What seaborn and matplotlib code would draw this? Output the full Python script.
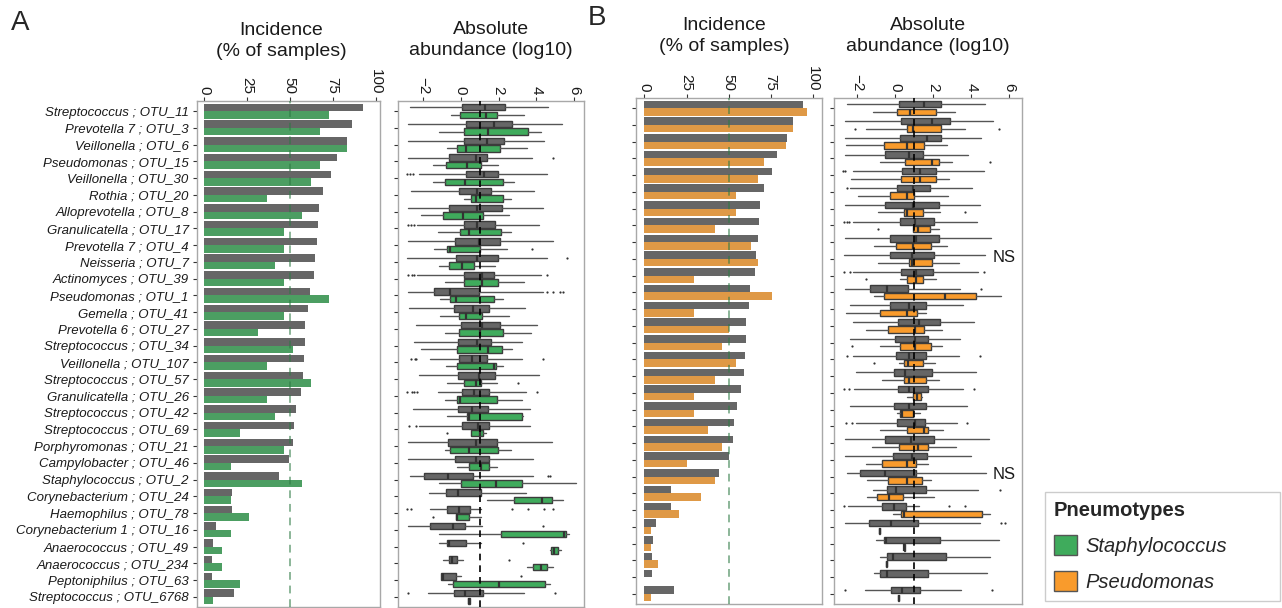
import matplotlib
matplotlib.use("Agg")
import matplotlib.pyplot as plt
import numpy as np
import pandas as pd
import seaborn as sns
from matplotlib.patches import Patch

# ---- data ---------------------------------------------------------------
otu_labels = [
    "Streptococcus ; OTU_11", "Prevotella 7 ; OTU_3", "Veillonella ; OTU_6",
    "Pseudomonas ; OTU_15", "Veillonella ; OTU_30", "Rothia ; OTU_20",
    "Alloprevotella ; OTU_8", "Granulicatella ; OTU_17", "Prevotella 7 ; OTU_4",
    "Neisseria ; OTU_7", "Actinomyces ; OTU_39", "Pseudomonas ; OTU_1",
    "Gemella ; OTU_41", "Prevotella 6 ; OTU_27", "Streptococcus ; OTU_34",
    "Veillonella ; OTU_107", "Streptococcus ; OTU_57", "Granulicatella ; OTU_26",
    "Streptococcus ; OTU_42", "Streptococcus ; OTU_69", "Porphyromonas ; OTU_21",
    "Campylobacter ; OTU_46", "Staphylococcus ; OTU_2", "Corynebacterium ; OTU_24",
    "Haemophilus ; OTU_78", "Corynebacterium 1 ; OTU_16", "Anaerococcus ; OTU_49",
    "Anaerococcus ; OTU_234", "Peptoniphilus ; OTU_63", "Streptococcus ; OTU_6768",
]

# incidence (% of samples), panel A: other pneumotypes vs Staphylococcus
inc_a_other = [92.5, 86.4, 83.1, 77.3, 74.0, 69.5, 67.0, 66.6, 65.7, 64.9,
               64.1, 61.6, 60.6, 59.0, 59.0, 58.5, 57.9, 56.5, 53.8, 52.3,
               51.7, 49.4, 43.7, 16.1, 16.1, 6.8, 5.1, 4.7, 4.7, 17.5]
inc_a_staph = [73.0, 67.6, 83.1, 67.6, 62.4, 36.5, 57.3, 46.8, 46.8, 41.6,
               46.8, 73.0, 46.8, 31.3, 52.0, 36.5, 62.4, 36.5, 41.6, 21.0,
               46.8, 15.5, 57.3, 15.5, 26.0, 15.5, 10.3, 10.3, 21.0, 5.1]

# incidence, panel B: other pneumotypes vs Pseudomonas
inc_b_other = [94.3, 88.4, 84.8, 78.9, 75.8, 71.0, 68.4, 68.0, 67.2, 66.3,
               65.5, 62.7, 61.9, 60.3, 60.3, 60.0, 59.3, 57.5, 54.9, 53.4,
               52.8, 50.4, 44.4, 16.0, 16.0, 6.6, 4.8, 4.4, 4.4, 17.5]
inc_b_pseudo = [96.7, 88.4, 84.0, 71.2, 67.2, 54.5, 54.5, 42.0, 63.1, 67.2,
                29.6, 75.8, 29.6, 50.4, 46.0, 54.5, 42.0, 29.6, 29.6, 38.0,
                46.0, 25.4, 42.0, 33.8, 20.8, 4.0, 4.0, 8.3, 0.0, 4.0]

# absolute abundance (log10): (lower whisker, q1, median, q3, upper whisker)
box_a_other = [
    (-2.68, 0.09, 1.29, 2.35, 4.60), (-2.77, 0.28, 1.75, 2.72, 5.33),
    (-2.77, 0.19, 1.38, 2.31, 4.41), (-2.77, -0.60, 0.79, 1.41, 3.76),
    (-2.20, 0.28, 1.22, 1.98, 4.55), (-2.65, -0.09, 0.85, 1.62, 3.90),
    (-2.77, -0.60, 0.85, 2.17, 4.37), (-2.33, 0.19, 0.88, 1.83, 4.16),
    (-2.77, -0.28, 0.97, 2.05, 4.90), (-2.82, -0.25, 0.85, 1.96, 4.55),
    (-2.33, 0.18, 1.11, 1.78, 4.25), (-2.77, -1.39, -0.56, 0.95, 4.37),
    (-2.72, -0.37, 0.67, 1.50, 3.42), (-2.36, 0.00, 1.15, 2.05, 4.02),
    (-2.50, -0.12, 0.88, 1.59, 3.26), (-1.62, -0.07, 0.62, 1.38, 3.26),
    (-2.19, -0.12, 0.99, 1.82, 4.14), (-1.23, 0.09, 0.72, 1.52, 3.44),
    (-2.54, -0.16, 0.58, 1.46, 3.67), (-2.19, 0.05, 0.92, 1.52, 3.67),
    (-2.77, -0.67, 0.81, 1.90, 4.81), (-2.77, -0.28, 0.78, 1.52, 3.84),
    (-2.68, -1.96, -0.67, 0.63, 3.84), (-1.66, -0.79, -0.16, 1.06, 3.44),
    (-1.62, -0.74, -0.09, 0.49, 1.06), (-2.77, -1.62, -0.42, 0.23, 1.11),
    (-1.13, -0.74, -0.63, 0.28, 1.06), (-0.95, -0.62, -0.44, -0.21, 0.14),
    (-1.06, -1.02, -0.92, -0.25, 0.02), (-1.75, -0.35, 0.25, 1.20, 3.37),
]
out_a_other = [
    [], [], [], [4.87], [-2.85, -2.70, -2.55], [], [], [-2.77, -2.65, -2.50],
    [], [5.61], [-2.80, -2.56, -2.45, 4.55], [4.55, 4.87, 5.26, 5.43], [], [],
    [], [-2.65, -2.40, -2.36, 4.37], [], [-2.82, -2.60, -2.50, -2.33, 4.02],
    [], [-2.72, -2.36], [], [], [4.64, 4.72], [],
    [-2.82, -2.65, 2.73, 3.58, 4.43, 4.90], [4.37], [3.28], [2.56], [3.17],
    [-2.77, 4.96],
]
box_a_staph = [
    (-0.53, -0.02, 1.31, 1.94, 3.35), (-1.13, 0.19, 1.43, 3.58, 4.25),
    (-0.71, -0.21, 0.30, 2.08, 3.53), (-1.45, -0.78, 0.34, 1.08, 1.96),
    (-1.45, -0.83, 0.21, 2.22, 2.84), (0.18, 0.56, 0.78, 2.22, 2.65),
    (-2.12, -0.92, 0.14, 1.20, 2.57), (-1.23, -0.02, 0.41, 2.12, 2.65),
    (-1.41, -0.71, -0.56, 1.01, 2.43), (-1.13, -0.63, 0.07, 0.72, 1.82),
    (-0.83, 0.16, 1.11, 1.98, 3.35), (-1.09, -0.56, -0.25, 1.78, 2.22),
    (-1.09, -0.11, 0.28, 1.15, 2.57), (-0.83, -0.07, 1.02, 2.26, 3.72),
    (-2.12, -0.18, 1.46, 2.19, 2.70), (-0.79, -0.18, 1.76, 1.87, 2.22),
    (-0.71, 0.16, 0.81, 1.08, 1.90), (-0.83, -0.21, -0.02, 1.94, 3.26),
    (-0.71, 0.32, 0.46, 3.26, 3.30), (0.53, 0.56, 1.02, 1.20, 1.34),
    (-0.83, -0.56, 0.42, 1.98, 2.65), (-0.21, 0.46, 1.09, 1.52, 1.90),
    (-1.13, 0.02, 1.87, 3.23, 6.10), (1.38, 2.80, 4.29, 4.85, 5.40),
    (-0.25, -0.25, -0.21, 0.41, 1.06), (-1.13, 2.15, 5.47, 5.57, 5.70),
    (4.73, 4.76, 4.94, 5.17, 5.31), (3.53, 3.84, 4.22, 4.55, 4.87),
    (-0.65, -0.39, 2.03, 4.46, 4.73), (0.39, 0.39, 0.44, 0.49, 0.49),
]
out_a_staph = [
    [], [], [], [], [], [], [], [], [3.76], [], [], [], [], [], [], [],
    [3.02], [], [], [-0.74], [], [], [], [], [-1.45], [], [], [], [], [],
]
box_b_other = [
    (-2.54, 0.18, 1.49, 2.42, 4.74), (-2.63, 0.32, 1.93, 2.86, 5.12),
    (-2.63, 0.23, 1.67, 2.40, 4.51), (-2.63, -0.56, 0.75, 1.46, 3.82),
    (-2.23, 0.35, 1.28, 2.14, 4.65), (-2.40, 0.11, 0.96, 1.82, 4.04),
    (-2.63, -0.56, 0.93, 2.30, 4.47), (-2.23, 0.23, 1.02, 2.02, 4.30),
    (-2.63, -0.30, 1.11, 2.28, 5.04), (-2.68, -0.30, 0.88, 2.05, 4.70),
    (-2.23, 0.28, 1.11, 1.98, 4.35), (-2.63, -1.32, -0.44, 0.67, 3.39),
    (-2.37, -0.25, 0.75, 1.63, 3.56), (-2.23, 0.14, 1.23, 2.37, 4.12),
    (-2.37, 0.00, 1.02, 1.75, 3.39), (-2.23, 0.02, 0.70, 1.63, 3.37),
    (-2.05, -0.04, 0.53, 1.93, 4.25), (-2.19, 0.14, 0.74, 1.72, 3.56),
    (-2.40, -0.04, 0.74, 1.63, 3.77), (-2.05, 0.11, 1.02, 1.58, 3.25),
    (-2.63, -0.56, 0.81, 2.05, 4.95), (-2.63, -0.14, 0.89, 1.67, 3.98),
    (-2.54, -1.84, -0.53, 1.11, 4.79), (-1.18, -0.44, 0.04, 1.63, 4.35),
    (-2.49, -0.68, -0.05, 0.58, 1.23), (-2.63, -1.37, -0.21, 1.19, 4.47),
    (-1.02, -0.61, -0.51, 2.33, 5.44), (-0.82, -0.44, -0.09, 2.68, 5.00),
    (-1.09, -0.79, -0.42, 1.72, 4.82), (-1.61, -0.21, 0.35, 1.32, 3.47),
]
out_b_other = [
    [], [], [], [], [-2.75, -2.63], [-2.54], [], [-2.68, -2.54, -2.42], [],
    [], [-2.67, -2.40, 4.68], [4.51], [], [], [], [-2.54, 4.47], [],
    [-2.72, -2.42, 4.12], [], [-2.60, -2.25, 3.77], [], [], [], [5.53],
    [-2.72, 2.84, 3.68], [5.56, 5.79], [], [], [], [-2.63, 5.09],
]
box_b_pseudo = [
    (-1.18, 0.09, 0.79, 2.12, 3.16), (-1.54, 0.61, 0.96, 2.39, 3.68),
    (-2.58, -0.61, 0.61, 1.53, 2.72), (-0.79, 0.49, 1.93, 2.28, 2.98),
    (-2.32, 0.28, 1.32, 2.14, 2.81), (-1.98, -0.30, 0.61, 1.00, 2.77),
    (-0.91, 0.44, 0.61, 1.46, 2.37), (0.96, 0.96, 1.18, 1.81, 2.28),
    (-1.14, 0.02, 0.96, 1.88, 2.72), (-0.91, 0.74, 0.88, 1.93, 3.35),
    (0.26, 0.60, 1.11, 1.46, 2.14), (-1.14, -0.61, 2.63, 4.23, 5.58),
    (-2.60, -0.82, 0.61, 1.14, 1.63), (-1.54, -0.39, 1.05, 1.54, 2.47),
    (-0.82, 0.26, 1.05, 1.88, 2.47), (0.18, 0.44, 0.67, 1.46, 2.11),
    (-0.70, 0.47, 0.70, 1.63, 2.28), (0.61, 0.96, 1.14, 1.37, 1.40),
    (0.09, 0.23, 0.35, 0.93, 1.32), (-0.82, 0.61, 1.53, 1.75, 2.51),
    (-1.23, 0.18, 1.19, 1.75, 3.21), (-1.54, -0.72, 0.61, 1.11, 1.72),
    (-1.49, -0.40, 0.61, 1.40, 1.88), (-1.49, -0.96, -0.32, 0.40, 2.05),
    (-0.09, 0.30, 0.47, 4.56, 5.00), (-0.85, -0.85, -0.82, -0.79, -0.79),
    (0.44, 0.44, 0.47, 0.50, 0.50), (-0.47, -0.47, -0.44, -0.41, -0.41),
    None, (0.16, 0.16, 0.19, 0.22, 0.22),
]
out_b_pseudo = [
    [], [-2.14, 5.44], [], [5.00], [], [], [3.65], [-0.88], [], [], [-1.54],
    [], [], [], [-2.28], [-1.11], [], [], [], [], [], [], [], [], [], [], [],
    [], [], [],
]

ns_rows = [9, 22]   # rows of panel B flagged "NS"
inc_ticks = [0, 25, 50, 75, 100]
abund_ticks = [-2, 0, 2, 4, 6]

GREY = "#666666"
GREEN = "#3fab5c"
ORANGE = "#f99b2c"
W, H = 1282, 608

sns.set_theme(style="white")
plt.rcParams["font.family"] = ["Liberation Sans", "DejaVu Sans"]


def axes_at(fig, left, top, right, bottom):
    return fig.add_axes([left / W, 1 - bottom / H, (right - left) / W, (bottom - top) / H])


def style_axis(ax, xlim, xticks):
    ax.set_xlim(*xlim)
    ax.set_xticks(xticks)
    ax.set_ylim(29.6, -0.6)
    ax.set_xlabel("")
    ax.set_ylabel("")
    ax.xaxis.tick_top()
    ax.tick_params(axis="x", top=True, bottom=False, length=3, width=0.8,
                   color="#333333", labelsize=11, labelcolor="#1a1a1a",
                   labelrotation=-90, pad=2)
    ax.tick_params(axis="y", left=True, length=3, width=0.8, color="#333333",
                   labelsize=9.5, labelcolor="#1a1a1a", pad=3)
    for s in ax.spines.values():
        s.set_color("#a8a8a8")
        s.set_linewidth(1)


def incidence_panel(ax, rows, other, focal, colour, xlim, show_labels):
    n = len(rows)
    df = pd.DataFrame({
        "row": list(rows) * 2,
        "incidence": list(other) + list(focal),
        "group": ["other"] * n + ["focal"] * n,
    })
    sns.barplot(data=df, x="incidence", y="row", hue="group", order=rows,
                hue_order=["other", "focal"], palette=[GREY, colour],
                orient="h", width=0.9, gap=0, errorbar=None, linewidth=0,
                legend=False, ax=ax)
    ax.axvline(50, color="#2d7a44", alpha=0.55, lw=1.4, ls=(0, (4, 3)), zorder=5)
    style_axis(ax, xlim, inc_ticks)
    if show_labels:
        for lab in ax.get_yticklabels():
            lab.set_fontstyle("italic")
    else:
        ax.set_yticklabels([])


def box_panel(ax, groups, xlim):
    for offset, stats, outs, colour in groups:
        items, pos = [], []
        for i, (s, f) in enumerate(zip(stats, outs)):
            if s is None:
                continue
            lo, q1, med, q3, hi = s
            items.append(dict(whislo=lo, q1=q1, med=med, q3=q3, whishi=hi, fliers=f))
            pos.append(i + offset)
        ax.bxp(items, positions=pos, widths=0.38, orientation="horizontal",
               patch_artist=True, showcaps=False, manage_ticks=False,
               boxprops=dict(facecolor=colour, edgecolor="#3c3c3c", linewidth=1),
               whiskerprops=dict(color="#555555", linewidth=1),
               medianprops=dict(color="#333333", linewidth=1.6),
               flierprops=dict(marker="o", markersize=1.6, markerfacecolor="#333333",
                               markeredgecolor="none"))
    ax.axvline(1, color="black", lw=1.2, ls=(0, (4, 3)), zorder=6)
    ax.set_yticks(range(30))
    ax.set_yticklabels([])
    style_axis(ax, xlim, abund_ticks)


fig = plt.figure(figsize=(W / 100, H / 100), dpi=100)

ax_ai = axes_at(fig, 197, 101, 380, 607)
ax_ab = axes_at(fig, 398, 101, 584, 607)
ax_bi = axes_at(fig, 636, 98, 822, 604)
ax_bb = axes_at(fig, 834, 98, 1022, 604)

incidence_panel(ax_ai, otu_labels, inc_a_other, inc_a_staph, GREEN,
                (-4.1, 102.6), True)
box_panel(ax_ab, [(-0.225, box_a_other, out_a_other, GREY),
                  (0.225, box_a_staph, out_a_staph, GREEN)], (-3.32, 6.52))

b_rows = [f"b{i}" for i in range(30)]
incidence_panel(ax_bi, b_rows, inc_b_other, inc_b_pseudo, ORANGE,
                (-5.05, 105.5), False)
box_panel(ax_bb, [(-0.225, box_b_other, out_b_other, GREY),
                  (0.225, box_b_pseudo, out_b_pseudo, ORANGE)], (-3.22, 6.67))

for r in ns_rows:
    ax_bb.text(5.75, r - 0.1, "NS", fontsize=12, ha="center", va="center",
               color="#1a1a1a")

# titles
title_kw = dict(ha="center", va="center", fontsize=14, linespacing=1.3,
                color="#1a1a1a")
fig.text(281 / W, 1 - 41 / H, "Incidence\n(% of samples)", **title_kw)
fig.text(491 / W, 1 - 40 / H, "Absolute\nabundance (log10)", **title_kw)
fig.text(724 / W, 1 - 36 / H, "Incidence\n(% of samples)", **title_kw)
fig.text(928 / W, 1 - 36 / H, "Absolute\nabundance (log10)", **title_kw)
fig.text(20 / W, 1 - 23 / H, "A", ha="center", va="center", fontsize=20)
fig.text(597 / W, 1 - 18 / H, "B", ha="center", va="center", fontsize=20)

handles = [Patch(facecolor=GREEN, edgecolor="#555555", label="Staphylococcus"),
           Patch(facecolor=ORANGE, edgecolor="#555555", label="Pseudomonas")]
leg = fig.legend(handles=handles, title="Pneumotypes", loc="upper left",
                 bbox_to_anchor=(1045 / W, 6 / H, 235 / W, 110 / H),
                 mode="expand", frameon=True,
                 fancybox=False, edgecolor="#c0c0c0", alignment="left",
                 prop=dict(style="italic", size=14.5),
                 title_fontproperties=dict(weight="bold", size=14.5),
                 handlelength=1.15, handleheight=1.15, labelspacing=0.75,
                 handletextpad=0.4, borderpad=0.45, borderaxespad=0)
leg.get_frame().set_linewidth(1)

fig.savefig("out.png", dpi=100)
